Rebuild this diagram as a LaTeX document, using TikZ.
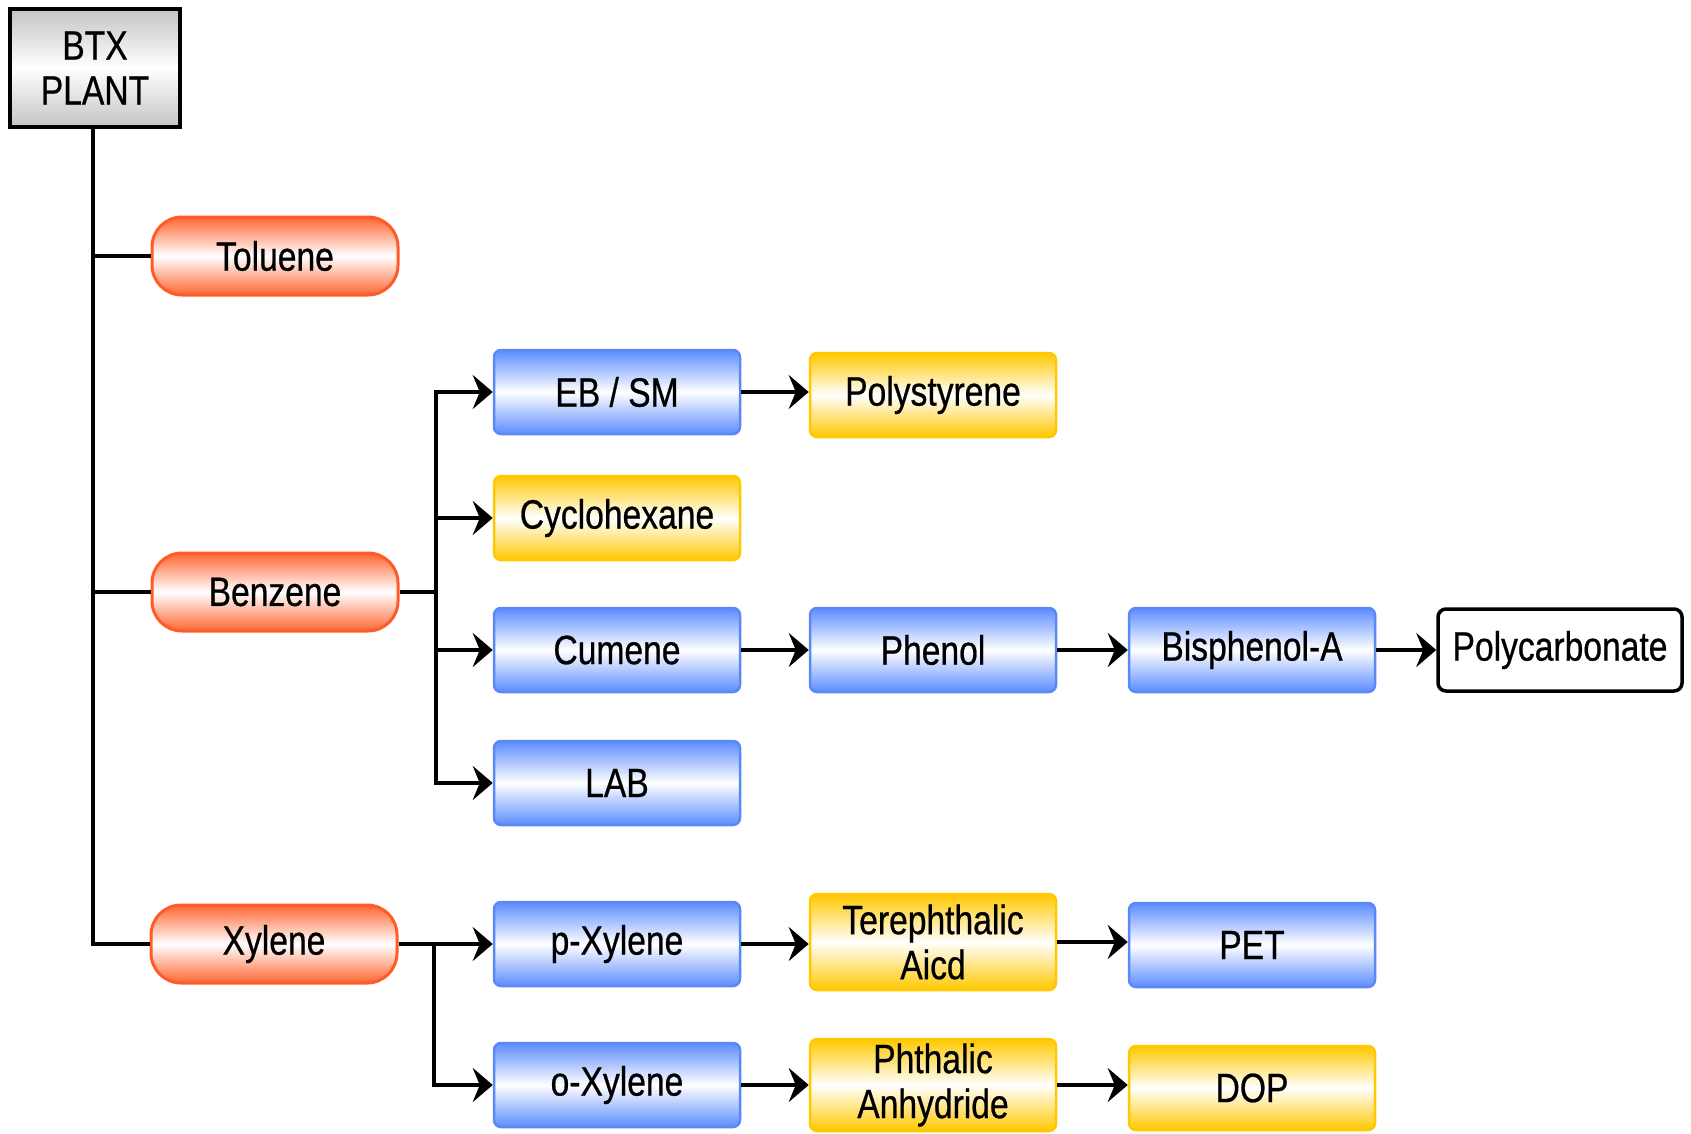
\documentclass[tikz,border=0pt]{standalone}
\usepackage{fontspec}
\setmainfont{Liberation Sans}[FakeStretch=0.82,FakeBold=0.6]
\usetikzlibrary{arrows.meta}
\definecolor{bl}{HTML}{5B8CFF}
\definecolor{bld}{HTML}{5A88F5}
\definecolor{yl}{HTML}{FFC800}
\definecolor{rd}{HTML}{FF6633}
\definecolor{rdd}{HTML}{FF5A28}
\definecolor{gr}{HTML}{C4C4C4}
\tikzset{
  lbl/.style={font=\fontsize{41}{45}\selectfont, align=center, inner sep=0pt, text=black},
  bluebox/.style={lbl, draw=bld, line width=2.5pt, rounded corners=7pt, top color=bl, bottom color=bl, middle color=white, minimum width=246pt, minimum height=84pt},
  yellowbox/.style={lbl, draw=yl, line width=2.5pt, rounded corners=7pt, top color=yl, bottom color=yl, middle color=white, minimum width=246pt, minimum height=84pt},
  pill/.style={lbl, draw=rdd, line width=3pt, rounded corners=30pt, top color=rd, bottom color=rd, middle color=white, minimum width=246pt, minimum height=78pt},
  whitebox/.style={lbl, draw=black, line width=3.5pt, rounded corners=8pt, fill=white, minimum width=244pt, minimum height=82pt},
  graybox/.style={lbl, draw=black, line width=4.5pt, top color=gr, bottom color=gr, middle color=white, minimum width=170pt, minimum height=118pt},
  conn/.style={line width=4.5pt, black},
  arr/.style={conn, -{Stealth[length=20pt,width=34pt,inset=7pt]}}
}
\begin{document}
\begin{tikzpicture}[x=1pt,y=-1pt]
\useasboundingbox (0,0) rectangle (1691,1134);
% nodes
\node[graybox] (btx) at (95,68) {BTX\\PLANT};
\node[pill] (tol) at (275,256) {Toluene};
\node[pill] (ben) at (275,592) {Benzene};
\node[pill] (xyl) at (274,944) {Xylene};

\node[bluebox] (ebsm) at (617,392) {EB / SM};
\node[yellowbox] (cyc) at (617,518) {Cyclohexane};
\node[bluebox] (cum) at (617,650) {Cumene};
\node[bluebox] (lab) at (617,783) {LAB};
\node[bluebox] (pxy) at (617,944) {p-Xylene};
\node[bluebox] (oxy) at (617,1085) {o-Xylene};

\node[yellowbox] (ps) at (933,395) {Polystyrene};
\node[bluebox] (phe) at (933,650) {Phenol};
\node[yellowbox, minimum height=96pt] (tpa) at (933,942) {Terephthalic\\Aicd};
\node[yellowbox, minimum height=92pt] (pa) at (933,1085) {Phthalic\\Anhydride};

\node[bluebox] (bpa) at (1252,650) {Bisphenol-A};
\node[bluebox] (pet) at (1252,945) {PET};
\node[yellowbox] (dop) at (1252,1088) {DOP};

\node[whitebox] (pc) at (1560,650) {Polycarbonate};

% trunk
\coordinate (tb) at (93,129);
\draw[conn] (tb) |- (xyl.west);
\draw[conn] (tb |- tol.west) -- (tol.west);
\draw[conn] (tb |- ben.west) -- (ben.west);

% benzene branch
\coordinate (jb) at (436,592);
\draw[conn] (ben.east) -- (jb);
\draw[arr] (jb) |- (ebsm.west);
\draw[arr] (jb) |- (cyc.west);
\draw[arr] (jb) |- (cum.west);
\draw[arr] (jb) |- (lab.west);

% xylene branch
\coordinate (jx) at (434,944);
\draw[arr] (xyl.east) -- (pxy.west);
\draw[arr] (jx) |- (oxy.west);

% chains
\draw[arr] (ebsm.east) -- (ebsm.east -| ps.west);
\draw[arr] (cum.east) -- (phe.west);
\draw[arr] (phe.east) -- (bpa.west);
\draw[arr] (bpa.east) -- (pc.west);
\draw[arr] (pxy.east) -- (pxy.east -| tpa.west);
\draw[arr] (tpa.east) -- (tpa.east -| pet.west);
\draw[arr] (oxy.east) -- (oxy.east -| pa.west);
\draw[arr] (pa.east) -- (pa.east -| dop.west);
\end{tikzpicture}
\end{document}
